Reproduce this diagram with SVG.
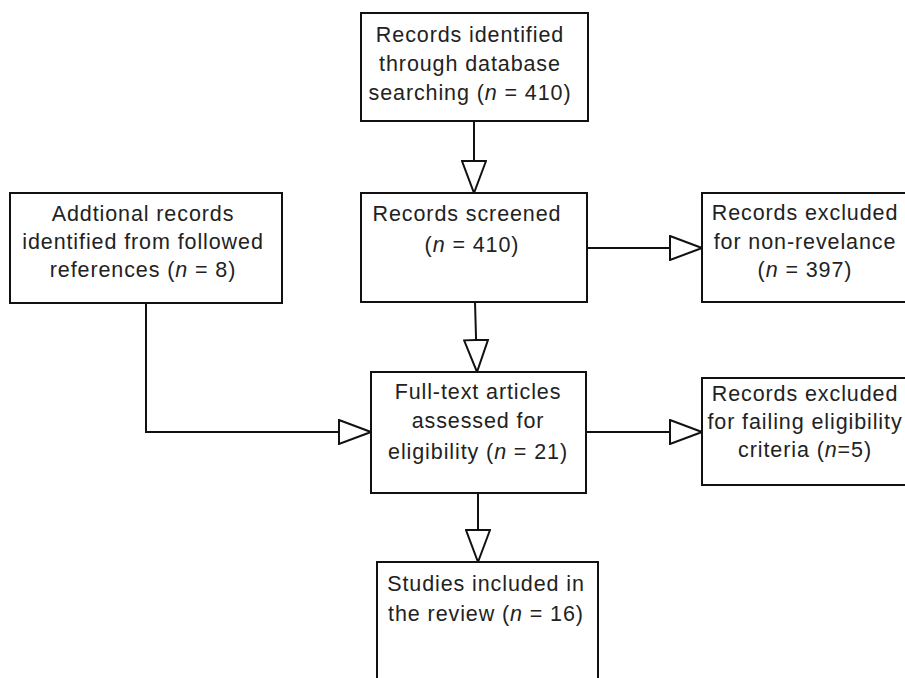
<svg xmlns="http://www.w3.org/2000/svg" width="905" height="678" viewBox="0 0 905 678">
<style>
.box{fill:#fff;stroke:#111;stroke-width:2}
.t{font-family:"Liberation Sans",Arial,sans-serif;font-size:21.5px;fill:#222;text-anchor:middle;letter-spacing:0.9px}
.i{font-style:italic}
.c{fill:none;stroke:#111;stroke-width:2}
</style>
<defs>
<marker id="ah" viewBox="0 0 34 26" refX="33" refY="13" markerWidth="34" markerHeight="26" markerUnits="userSpaceOnUse" orient="auto">
<path d="M1,1 L33,13 L1,25 Z" fill="#fff" stroke="#111" stroke-width="2"/>
</marker>
</defs>
<rect width="905" height="678" fill="#fff"/>
<g id="n1"><rect class="box" x="361" y="13" width="227" height="108"/>
<text class="t" x="470" y="42">Records identified</text>
<text class="t" x="470" y="71">through database</text>
<text class="t" x="470" y="100">searching (<tspan class="i">n</tspan> = 410)</text></g>
<g id="n2"><rect class="box" x="10" y="193" width="272" height="110"/>
<text class="t" x="143" y="221">Addtional records</text>
<text class="t" x="143" y="249">identified from followed</text>
<text class="t" x="143" y="277">references (<tspan class="i">n</tspan> = 8)</text></g>
<g id="n3"><rect class="box" x="361" y="193" width="226" height="109"/>
<text class="t" x="467" y="221">Records screened</text>
<text class="t" x="472" y="252">(<tspan class="i">n</tspan> = 410)</text></g>
<g id="n4"><rect class="box" x="702" y="193" width="210" height="109"/>
<text class="t" x="805" y="220">Records excluded</text>
<text class="t" x="805" y="249">for non-revelance</text>
<text class="t" x="805" y="277">(<tspan class="i">n</tspan> = 397)</text></g>
<g id="n5"><rect class="box" x="371" y="372" width="215" height="121"/>
<text class="t" x="478" y="399">Full-text articles</text>
<text class="t" x="478" y="428">assessed for</text>
<text class="t" x="478" y="459">eligibility (<tspan class="i">n</tspan> = 21)</text></g>
<g id="n6"><rect class="box" x="702" y="378" width="210" height="107"/>
<text class="t" x="805" y="401">Records excluded</text>
<text class="t" x="805" y="429">for failing eligibility</text>
<text class="t" x="805" y="457">criteria (<tspan class="i">n</tspan>=5)</text></g>
<g id="n7"><rect class="box" x="377" y="562" width="221" height="200"/>
<text class="t" x="486" y="591">Studies included in</text>
<text class="t" x="486" y="621">the review (<tspan class="i">n</tspan> = 16)</text></g>
<g id="connectors">
<path class="c" d="M474,121 V193" marker-end="url(#ah)"/>
<path class="c" d="M475,302 L477,372" marker-end="url(#ah)"/>
<path class="c" d="M146,303 V432 H371" marker-end="url(#ah)"/>
<path class="c" d="M587,248 H702" marker-end="url(#ah)"/>
<path class="c" d="M586,432 H702" marker-end="url(#ah)"/>
<path class="c" d="M478,493 V562" marker-end="url(#ah)"/>
</g>
</svg>
